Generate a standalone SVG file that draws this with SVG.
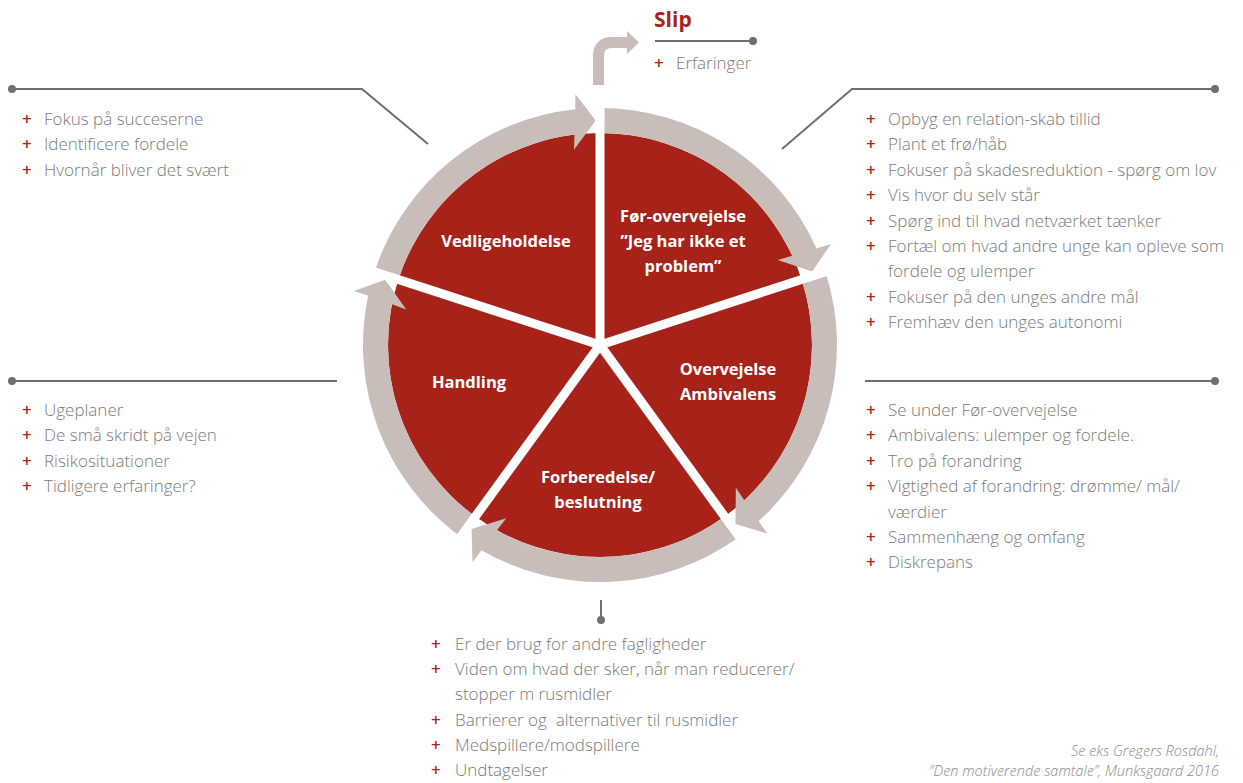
<svg xmlns="http://www.w3.org/2000/svg" xmlns:xlink="http://www.w3.org/1999/xlink" width="1243" height="783" viewBox="0 0 1243 783">
<style>
.sector{fill:#a7231a}
.ring{fill:#c8bdb9}
.lbl{font-family:"Open Sans","Noto Sans","Liberation Sans",sans-serif;font-weight:700;font-size:16.5px;fill:#ffffff;text-anchor:middle}
.item{font-family:"Open Sans","Noto Sans","Liberation Sans",sans-serif;font-weight:300;font-size:17px;fill:#7a7a7a}
.p{fill:#b3221a;font-weight:600}
.lead{fill:none;stroke:#6f6f6f;stroke-width:2}
.dot{fill:#6f6f6f}
.sep{stroke:#ffffff;stroke-width:9}
.cite{font-family:"Open Sans","Noto Sans","Liberation Sans",sans-serif;font-style:italic;font-weight:300;font-size:14.5px;fill:#8a8a8a;text-anchor:end}
</style>
<defs>
<path id="sector" d="M600 345 L600 133 A212 212 0 0 1 801.62 279.49 Z"/>
<path id="ringseg" d="M600 108 A237 237 0 0 1 816.51 248.60 L830.92 244.11 L812.14 271.54 L777.66 259.88 L792.29 255.74 A212 212 0 0 0 600 133 Z"/>
</defs>

<g id="stage-foer-overvejelse">
<use xlink:href="#sector" href="#sector" class="sector"/>
<use xlink:href="#ringseg" href="#ringseg" class="ring"/>
<text class="lbl"><tspan x="683" y="222">Før-overvejelse</tspan><tspan x="683" y="247">”Jeg har ikke et</tspan><tspan x="683" y="272">problem”</tspan></text>
</g>
<g id="stage-overvejelse">
<use xlink:href="#sector" href="#sector" class="sector" transform="rotate(72 600 345)"/>
<use xlink:href="#ringseg" href="#ringseg" class="ring" transform="rotate(72 600 345)"/>
<text class="lbl"><tspan x="728" y="375">Overvejelse</tspan><tspan x="728" y="400">Ambivalens</tspan></text>
</g>
<g id="stage-forberedelse">
<use xlink:href="#sector" href="#sector" class="sector" transform="rotate(144 600 345)"/>
<use xlink:href="#ringseg" href="#ringseg" class="ring" transform="rotate(144 600 345)"/>
<text class="lbl"><tspan x="598" y="483">Forberedelse/</tspan><tspan x="598" y="508">beslutning</tspan></text>
</g>
<g id="stage-handling">
<use xlink:href="#sector" href="#sector" class="sector" transform="rotate(216 600 345)"/>
<use xlink:href="#ringseg" href="#ringseg" class="ring" transform="rotate(216 600 345)"/>
<text class="lbl" x="469" y="388">Handling</text>
</g>
<g id="stage-vedligeholdelse">
<use xlink:href="#sector" href="#sector" class="sector" transform="rotate(288 600 345)"/>
<use xlink:href="#ringseg" href="#ringseg" class="ring" transform="rotate(288 600 345)"/>
<text class="lbl" x="506" y="247">Vedligeholdelse</text>
</g>

<g id="separators">
<line class="sep" x1="600" y1="345" x2="600" y2="98"/>
<line class="sep" x1="600" y1="345" x2="600" y2="98" transform="rotate(72 600 345)"/>
<line class="sep" x1="600" y1="345" x2="600" y2="98" transform="rotate(144 600 345)"/>
<line class="sep" x1="600" y1="345" x2="600" y2="98" transform="rotate(216 600 345)"/>
<line class="sep" x1="600" y1="345" x2="600" y2="98" transform="rotate(288 600 345)"/>
</g>

<g id="slip">
<path d="M598.5 85 V56 Q598.5 42.5 612 42.5 H629" fill="none" stroke="#c8bdb9" stroke-width="11"/>
<polygon points="627,31 639,42.5 627,54" fill="#c8bdb9"/>
<text x="654" y="27" font-family="'Open Sans','Noto Sans','Liberation Sans',sans-serif" font-weight="700" font-size="21" fill="#a7231a">Slip</text>
</g>

<g id="connectors">
<line class="lead" x1="655" y1="41" x2="753" y2="41"/><circle class="dot" cx="753" cy="41" r="4"/>
<polyline class="lead" points="12,89 362,89 428,144"/><circle class="dot" cx="12" cy="89" r="4"/>
<polyline class="lead" points="782,149 852,89 1215,89"/><circle class="dot" cx="1215" cy="89" r="4"/>
<line class="lead" x1="12" y1="381" x2="337" y2="381"/><circle class="dot" cx="12" cy="381" r="4"/>
<line class="lead" x1="865" y1="381" x2="1215" y2="381"/><circle class="dot" cx="1215" cy="381" r="4"/>
<line class="lead" x1="601" y1="600" x2="601" y2="620"/><circle class="dot" cx="601" cy="620" r="4"/>
</g>

<g id="notes-slip">
<text class="item" y="69"><tspan class="p" x="654">+</tspan><tspan x="676">Erfaringer</tspan></text>
</g>

<g id="notes-vedligeholdelse">
<text class="item" y="125"><tspan class="p" x="22">+</tspan><tspan x="44">Fokus på succeserne</tspan></text>
<text class="item" y="150.4"><tspan class="p" x="22">+</tspan><tspan x="44">Identificere fordele</tspan></text>
<text class="item" y="175.8"><tspan class="p" x="22">+</tspan><tspan x="44">Hvornår bliver det svært</tspan></text>
</g>

<g id="notes-foer-overvejelse">
<text class="item" y="125"><tspan class="p" x="866">+</tspan><tspan x="888">Opbyg en relation-skab tillid</tspan></text>
<text class="item" y="150.4"><tspan class="p" x="866">+</tspan><tspan x="888">Plant et frø/håb</tspan></text>
<text class="item" y="175.8"><tspan class="p" x="866">+</tspan><tspan x="888">Fokuser på skadesreduktion - spørg om lov</tspan></text>
<text class="item" y="201.2"><tspan class="p" x="866">+</tspan><tspan x="888">Vis hvor du selv står</tspan></text>
<text class="item" y="226.6"><tspan class="p" x="866">+</tspan><tspan x="888">Spørg ind til hvad netværket tænker</tspan></text>
<text class="item" y="252"><tspan class="p" x="866">+</tspan><tspan x="888">Fortæl om hvad andre unge kan opleve som</tspan></text>
<text class="item" y="277.4"><tspan x="888">fordele og ulemper</tspan></text>
<text class="item" y="302.8"><tspan class="p" x="866">+</tspan><tspan x="888">Fokuser på den unges andre mål</tspan></text>
<text class="item" y="328.2"><tspan class="p" x="866">+</tspan><tspan x="888">Fremhæv den unges autonomi</tspan></text>
</g>

<g id="notes-handling">
<text class="item" y="416"><tspan class="p" x="22">+</tspan><tspan x="44">Ugeplaner</tspan></text>
<text class="item" y="441.4"><tspan class="p" x="22">+</tspan><tspan x="44">De små skridt på vejen</tspan></text>
<text class="item" y="466.8"><tspan class="p" x="22">+</tspan><tspan x="44">Risikosituationer</tspan></text>
<text class="item" y="492.2"><tspan class="p" x="22">+</tspan><tspan x="44">Tidligere erfaringer?</tspan></text>
</g>

<g id="notes-overvejelse">
<text class="item" y="416"><tspan class="p" x="866">+</tspan><tspan x="888">Se under Før-overvejelse</tspan></text>
<text class="item" y="441.4"><tspan class="p" x="866">+</tspan><tspan x="888">Ambivalens: ulemper og fordele.</tspan></text>
<text class="item" y="466.8"><tspan class="p" x="866">+</tspan><tspan x="888">Tro på forandring</tspan></text>
<text class="item" y="492.2"><tspan class="p" x="866">+</tspan><tspan x="888">Vigtighed af forandring: drømme/ mål/</tspan></text>
<text class="item" y="517.6"><tspan x="888">værdier</tspan></text>
<text class="item" y="543"><tspan class="p" x="866">+</tspan><tspan x="888">Sammenhæng og omfang</tspan></text>
<text class="item" y="568.4"><tspan class="p" x="866">+</tspan><tspan x="888">Diskrepans</tspan></text>
</g>

<g id="notes-forberedelse">
<text class="item" y="650"><tspan class="p" x="431">+</tspan><tspan x="455">Er der brug for andre fagligheder</tspan></text>
<text class="item" y="675.2"><tspan class="p" x="431">+</tspan><tspan x="455">Viden om hvad der sker, når man reducerer/</tspan></text>
<text class="item" y="700.4"><tspan x="455">stopper m rusmidler</tspan></text>
<text class="item" y="725.6"><tspan class="p" x="431">+</tspan><tspan x="455" xml:space="preserve">Barrierer og  alternativer til rusmidler</tspan></text>
<text class="item" y="750.8"><tspan class="p" x="431">+</tspan><tspan x="455">Medspillere/modspillere</tspan></text>
<text class="item" y="776"><tspan class="p" x="431">+</tspan><tspan x="455">Undtagelser</tspan></text>
</g>

<g id="citation">
<text class="cite" x="1219" y="756">Se eks Gregers Rosdahl,</text>
<text class="cite" x="1219" y="776">”Den motiverende samtale”, Munksgaard 2016</text>
</g>
</svg>
